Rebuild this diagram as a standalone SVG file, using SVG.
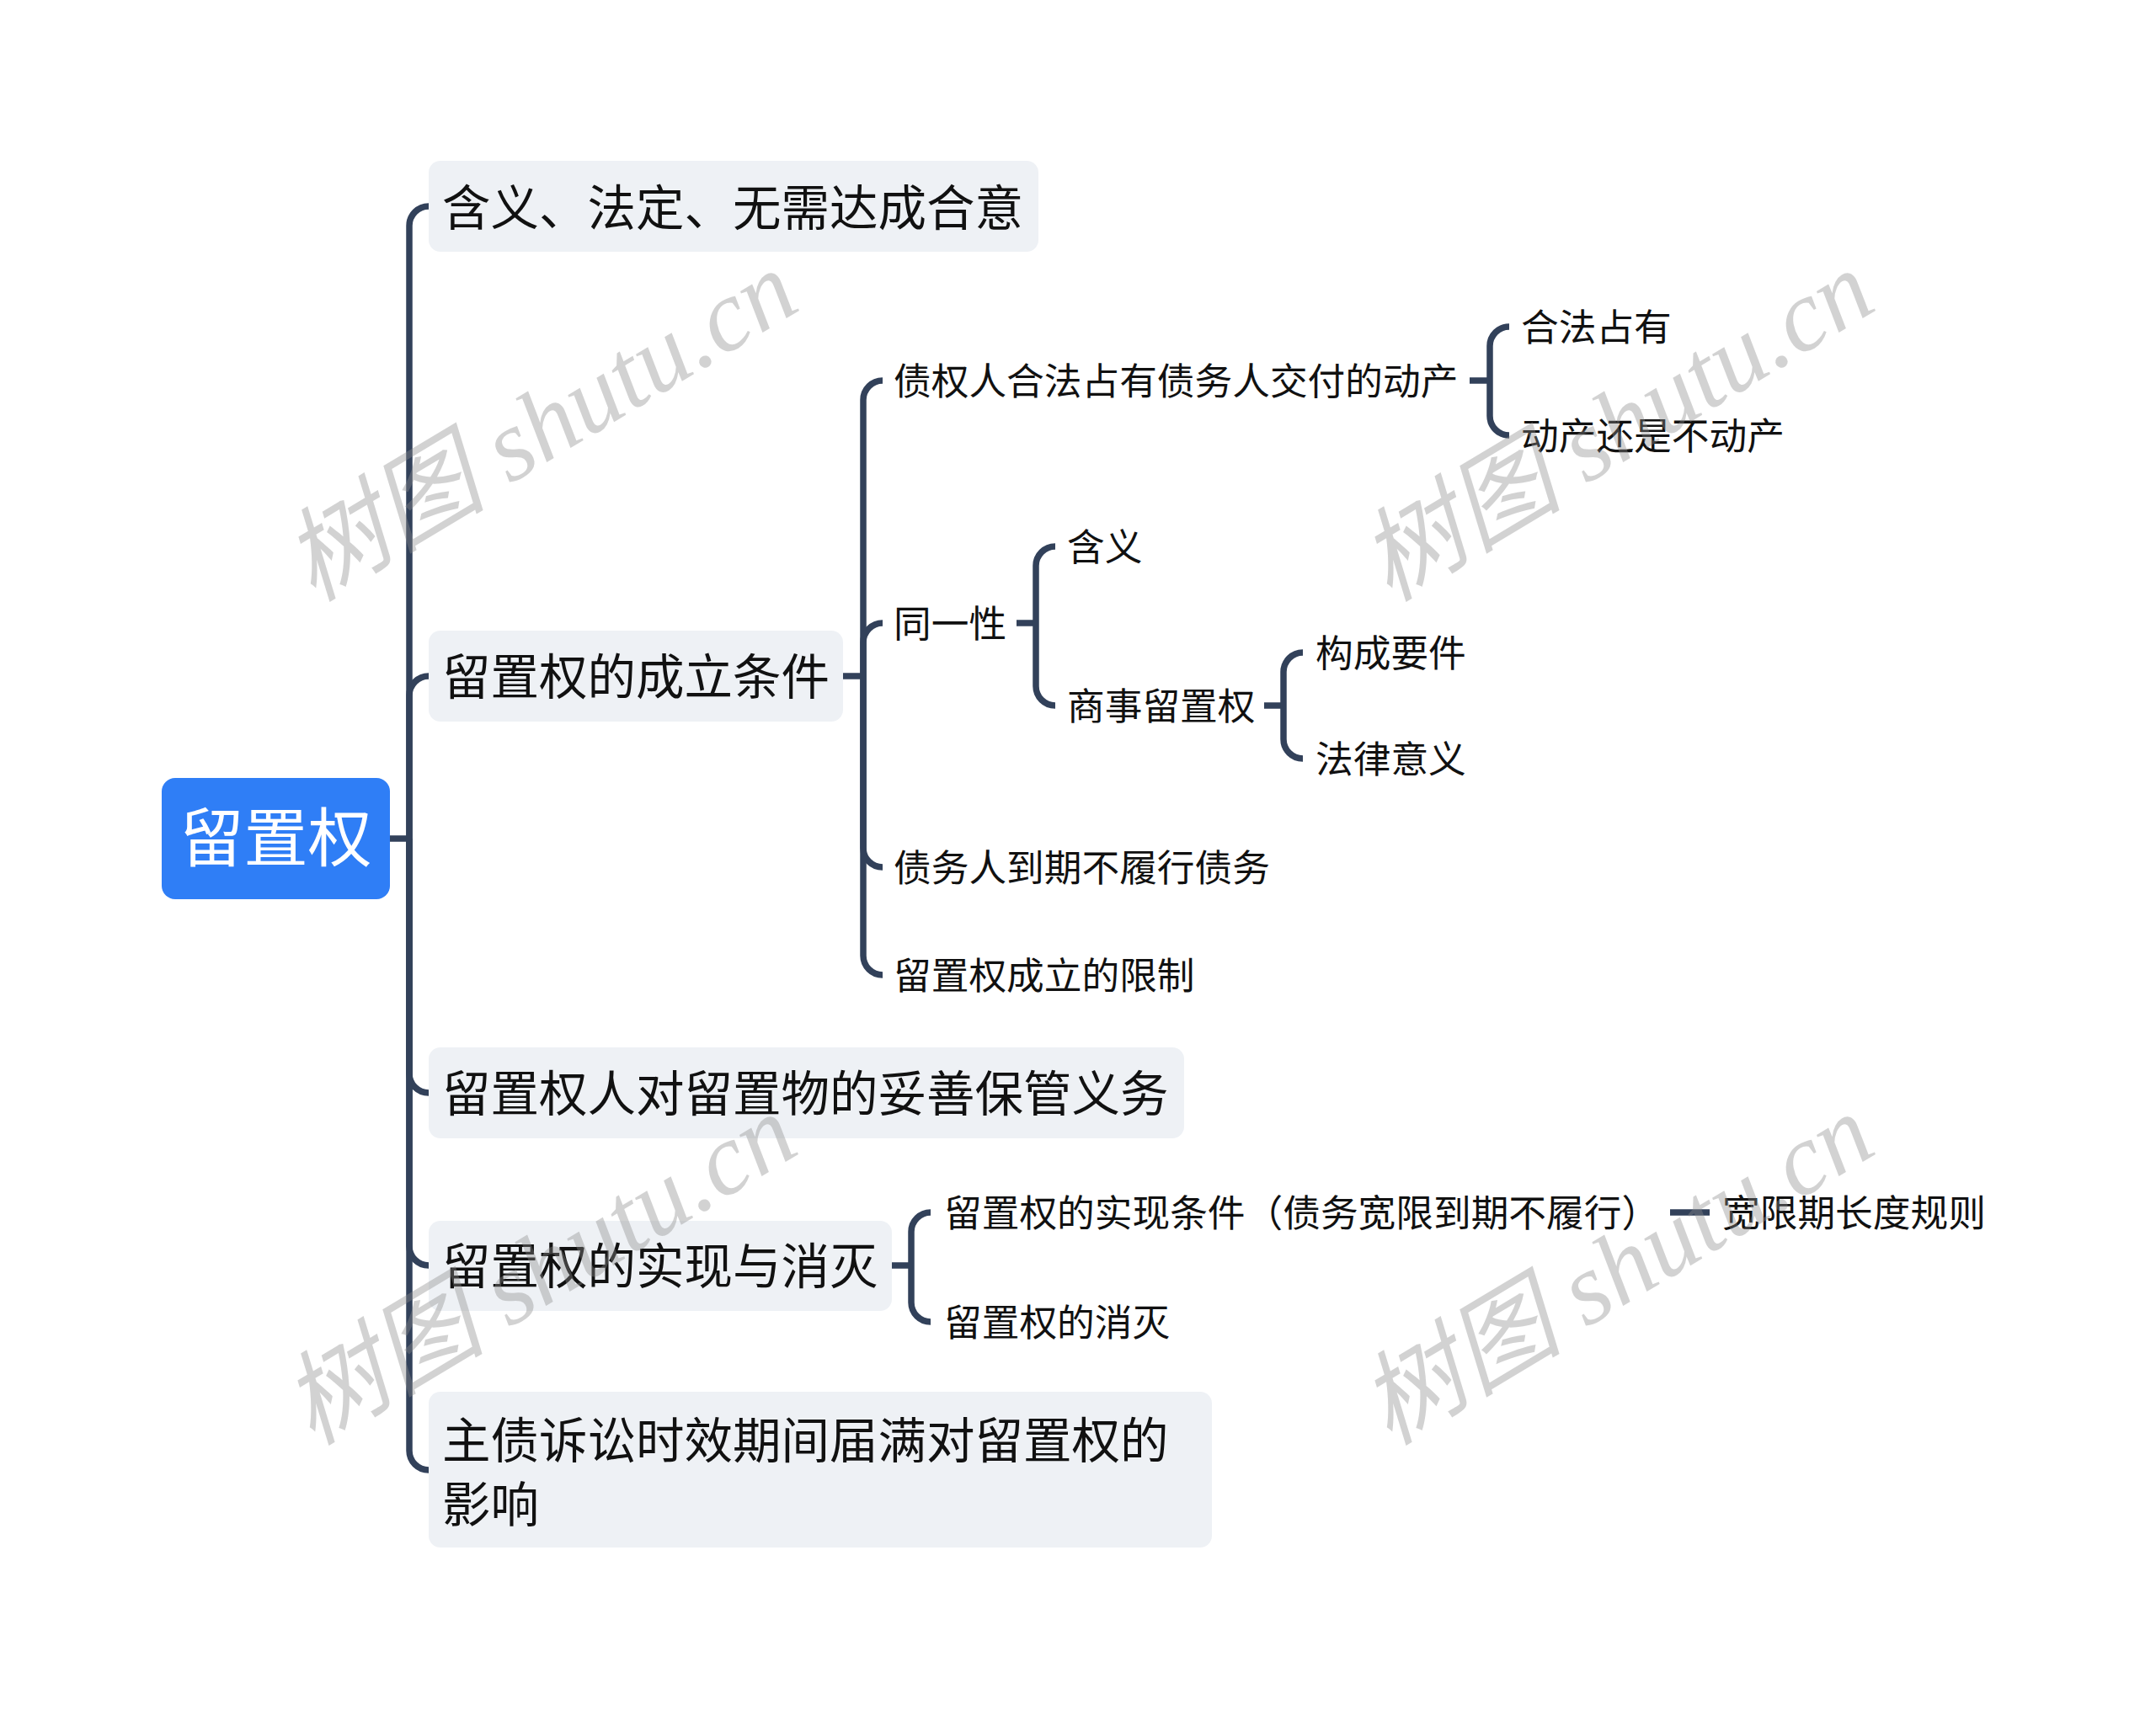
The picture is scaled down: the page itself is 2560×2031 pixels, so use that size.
<svg xmlns="http://www.w3.org/2000/svg" width="2560" height="2031" viewBox="0 0 2560 2031">
<style>
.conn path{fill:none;stroke:#32415A;stroke-width:7.5;stroke-linecap:butt;stroke-linejoin:round}
.box{fill:#EEF1F5}
.root{fill:#2F7EF6}
text{font-family:"Noto Sans CJK SC","Noto Sans",sans-serif;fill:#111}
.t0{font-size:76px;fill:#fff}
.t1{font-size:57.5px}
.t2{font-size:44.7px}
.wm{font-family:"Liberation Serif","Noto Sans CJK SC",serif;font-style:italic;font-size:121px;fill:#8c8c8c;opacity:0.38;text-anchor:middle}
</style>
<rect width="2560" height="2031" fill="#fff"/>
<g class="conn" id="connectors">
<path d="M463 996 H486"/>
<path d="M486 996 V268 A23 23 0 0 1 509 245"/>
<path d="M486 996 V826 A23 23 0 0 1 509 803"/>
<path d="M486 996 V1275 A23 23 0 0 0 509 1298"/>
<path d="M486 996 V1480 A23 23 0 0 0 509 1503"/>
<path d="M486 996 V1723 A23 23 0 0 0 509 1746"/>
<path d="M1001 803 H1025"/>
<path d="M1025 803 V475 A23 23 0 0 1 1048 452"/>
<path d="M1025 803 V763 A23 23 0 0 1 1048 740"/>
<path d="M1025 803 V1007 A23 23 0 0 0 1048 1030"/>
<path d="M1025 803 V1135 A23 23 0 0 0 1048 1158"/>
<path d="M1745 452 H1769"/>
<path d="M1769 452 V411 A23 23 0 0 1 1792 388"/>
<path d="M1769 452 V494 A23 23 0 0 0 1792 517"/>
<path d="M1207 740 H1230"/>
<path d="M1230 740 V672 A23 23 0 0 1 1253 649"/>
<path d="M1230 740 V815 A23 23 0 0 0 1253 838"/>
<path d="M1501 838 H1524"/>
<path d="M1524 838 V798 A23 23 0 0 1 1547 775"/>
<path d="M1524 838 V878 A23 23 0 0 0 1547 901"/>
<path d="M1059 1503 H1082"/>
<path d="M1082 1503 V1463 A23 23 0 0 1 1105 1440"/>
<path d="M1082 1503 V1547 A23 23 0 0 0 1105 1570"/>
<path d="M1983 1440 H2030"/>
</g>
<g id="n-root"><rect class="root" x="192" y="924" width="271" height="144" rx="16"/><text class="t0" x="327.5" y="1023" text-anchor="middle">留置权</text></g>
<g id="n1"><rect class="box" x="509" y="191" width="724" height="108" rx="14"/><text class="t1" x="525" y="268">含义、法定、无需达成合意</text></g>
<g id="n2"><rect class="box" x="509" y="749" width="492" height="108" rx="14"/><text class="t1" x="525" y="825">留置权的成立条件</text></g>
<g id="n3"><rect class="box" x="509" y="1244" width="897" height="108" rx="14"/><text class="t1" x="525" y="1320">留置权人对留置物的妥善保管义务</text></g>
<g id="n4"><rect class="box" x="509" y="1450" width="550" height="107" rx="14"/><text class="t1" x="525" y="1525">留置权的实现与消灭</text></g>
<g id="n5"><rect class="box" x="509" y="1653" width="930" height="185" rx="14"/><text class="t1" x="525" y="1732">主债诉讼时效期间届满对留置权的</text><text class="t1" x="525" y="1808">影响</text></g>
<g id="n2a"><text class="t2" x="1061" y="469">债权人合法占有债务人交付的动产</text></g>
<g id="n2a1"><text class="t2" x="1806" y="405">合法占有</text></g>
<g id="n2a2"><text class="t2" x="1806" y="534">动产还是不动产</text></g>
<g id="n2b"><text class="t2" x="1061" y="757">同一性</text></g>
<g id="n2b1"><text class="t2" x="1267" y="666">含义</text></g>
<g id="n2b2"><text class="t2" x="1267" y="855">商事留置权</text></g>
<g id="n2b2a"><text class="t2" x="1562" y="792">构成要件</text></g>
<g id="n2b2b"><text class="t2" x="1562" y="918">法律意义</text></g>
<g id="n2c"><text class="t2" x="1061" y="1047">债务人到期不履行债务</text></g>
<g id="n2d"><text class="t2" x="1061" y="1175">留置权成立的限制</text></g>
<g id="n4a"><text class="t2" x="1121" y="1457">留置权的实现条件（债务宽限到期不履行）</text></g>
<g id="n4a1"><text class="t2" x="2045" y="1457">宽限期长度规则</text></g>
<g id="n4b"><text class="t2" x="1121" y="1587">留置权的消灭</text></g>
<g id="watermarks">
<text class="wm" transform="translate(641 505) rotate(-31)" y="42">树图 shutu.cn</text>
<text class="wm" transform="translate(1919 505) rotate(-31)" y="42">树图 shutu.cn</text>
<text class="wm" transform="translate(640 1507) rotate(-31)" y="42">树图 shutu.cn</text>
<text class="wm" transform="translate(1919 1507) rotate(-31)" y="42">树图 shutu.cn</text>
</g>
</svg>
